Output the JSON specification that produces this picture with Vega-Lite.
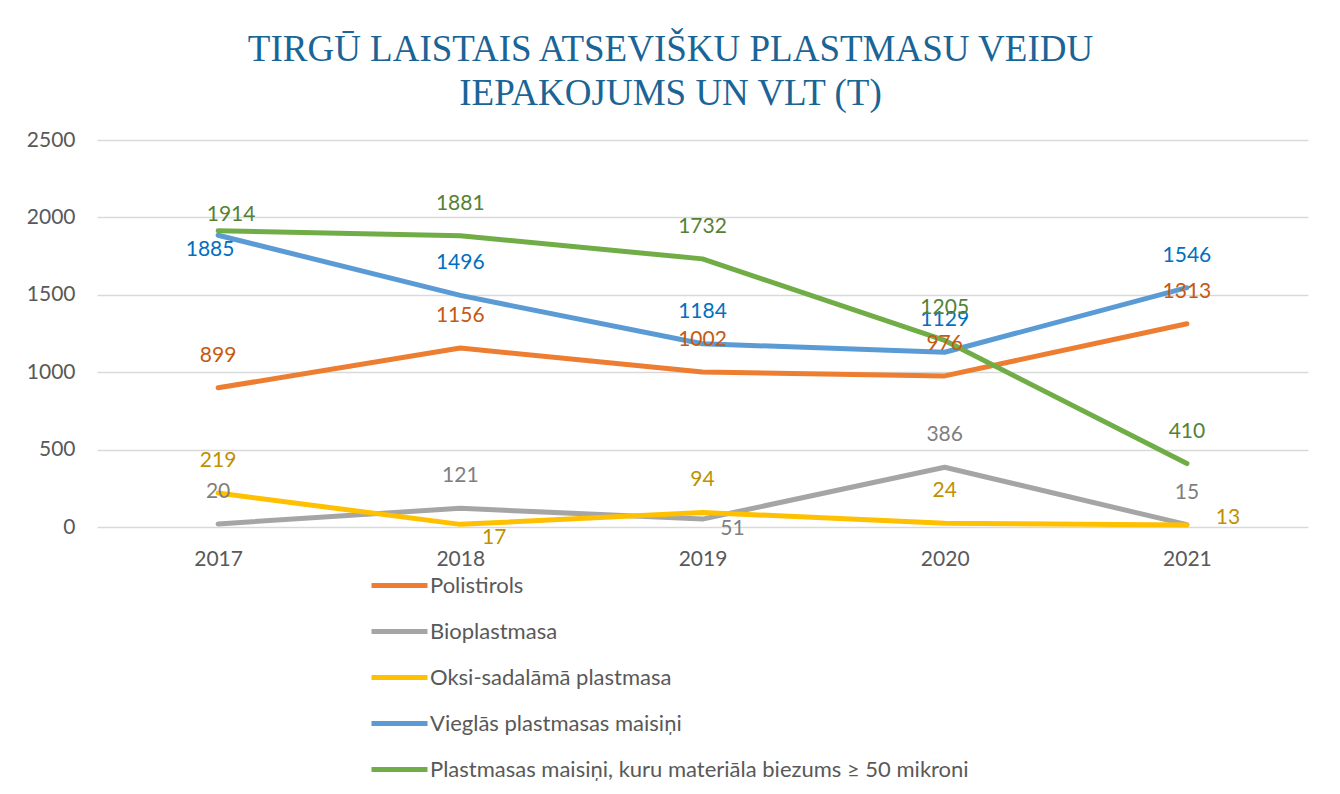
{
  "$schema": "https://vega.github.io/schema/vega-lite/v6.json",
  "width": 1211,
  "height": 387,
  "autosize": {"type": "none"},
  "padding": {"left": 97, "top": 140, "right": 32, "bottom": 267},
  "background": "white",
  "title": {
    "text": ["TIRGŪ LAISTAIS ATSEVIŠKU PLASTMASU VEIDU", "IEPAKOJUMS UN VLT (T)"],
    "font": "Liberation Serif",
    "fontSize": 37,
    "fontWeight": "normal",
    "color": "#1A6496",
    "lineHeight": 44,
    "anchor": "middle",
    "dx": -32,
    "offset": 16
  },
  "config": {
    "view": {"stroke": null},
    "font": "Lato",
    "axis": {"labelFont": "Lato", "labelFontSize": 21, "labelColor": "#595959", "ticks": false, "domain": false, "title": null}
  },
  "data": {
    "values": [
      {"year": "2017", "series": "Polistirols", "value": 899},
      {"year": "2018", "series": "Polistirols", "value": 1156},
      {"year": "2019", "series": "Polistirols", "value": 1002},
      {"year": "2020", "series": "Polistirols", "value": 976},
      {"year": "2021", "series": "Polistirols", "value": 1313},
      {"year": "2017", "series": "Bioplastmasa", "value": 20},
      {"year": "2018", "series": "Bioplastmasa", "value": 121},
      {"year": "2019", "series": "Bioplastmasa", "value": 51},
      {"year": "2020", "series": "Bioplastmasa", "value": 386},
      {"year": "2021", "series": "Bioplastmasa", "value": 15},
      {"year": "2017", "series": "Oksi-sadalāmā plastmasa", "value": 219},
      {"year": "2018", "series": "Oksi-sadalāmā plastmasa", "value": 17},
      {"year": "2019", "series": "Oksi-sadalāmā plastmasa", "value": 94},
      {"year": "2020", "series": "Oksi-sadalāmā plastmasa", "value": 24},
      {"year": "2021", "series": "Oksi-sadalāmā plastmasa", "value": 13},
      {"year": "2017", "series": "Vieglās plastmasas maisiņi", "value": 1885},
      {"year": "2018", "series": "Vieglās plastmasas maisiņi", "value": 1496},
      {"year": "2019", "series": "Vieglās plastmasas maisiņi", "value": 1184},
      {"year": "2020", "series": "Vieglās plastmasas maisiņi", "value": 1129},
      {"year": "2021", "series": "Vieglās plastmasas maisiņi", "value": 1546},
      {"year": "2017", "series": "Plastmasas maisiņi, kuru materiāla biezums ≥ 50 mikroni", "value": 1914},
      {"year": "2018", "series": "Plastmasas maisiņi, kuru materiāla biezums ≥ 50 mikroni", "value": 1881},
      {"year": "2019", "series": "Plastmasas maisiņi, kuru materiāla biezums ≥ 50 mikroni", "value": 1732},
      {"year": "2020", "series": "Plastmasas maisiņi, kuru materiāla biezums ≥ 50 mikroni", "value": 1205},
      {"year": "2021", "series": "Plastmasas maisiņi, kuru materiāla biezums ≥ 50 mikroni", "value": 410}
    ]
  },
  "encoding": {
    "x": {"field": "year", "type": "ordinal", "scale": {"type": "point", "padding": 0.5},
      "axis": {"labelAngle": 0, "labelPadding": 21, "grid": false}},
    "y": {"field": "value", "type": "quantitative", "scale": {"domain": [0, 2500], "nice": false},
      "axis": {"values": [0, 500, 1000, 1500, 2000, 2500], "format": "d", "labelPadding": 22, "grid": true, "gridColor": "#D9D9D9", "gridWidth": 1.5}}
  },
  "layer": [
    {
      "mark": {"type": "line", "strokeWidth": 5, "strokeCap": "round", "strokeJoin": "round"},
      "encoding": {
        "color": {"field": "series", "type": "nominal",
          "scale": {"domain": ["Polistirols", "Bioplastmasa", "Oksi-sadalāmā plastmasa", "Vieglās plastmasas maisiņi", "Plastmasas maisiņi, kuru materiāla biezums ≥ 50 mikroni"],
            "range": ["#ED7D31", "#A5A5A5", "#FFC000", "#5B9BD5", "#70AD47"]},
          "legend": {"orient": "none", "legendX": 272, "legendY": 415, "direction": "vertical", "title": null,
            "symbolType": "stroke", "symbolSize": 3136, "symbolStrokeWidth": 5, "labelFont": "Lato", "labelFontSize": 22,
            "labelColor": "#595959", "labelOffset": 0, "rowPadding": 4, "labelLimit": 800}
        }
      }
    },
    {
      "transform": [{"filter": "!((datum.series == 'Vieglās plastmasas maisiņi' && datum.year == '2017') || (datum.series == 'Bioplastmasa' && datum.year == '2019') || (datum.series == 'Oksi-sadalāmā plastmasa' && (datum.year == '2018' || datum.year == '2021')) || (datum.series == 'Plastmasas maisiņi, kuru materiāla biezums ≥ 50 mikroni' && datum.year == '2017'))"}],
      "mark": {"type": "text", "fontSize": 21, "font": "Lato", "dy": -32, "baseline": "middle"},
      "encoding": {
        "text": {"field": "value", "type": "quantitative"},
        "color": {"field": "series", "type": "nominal",
          "scale": {"domain": ["Polistirols", "Bioplastmasa", "Oksi-sadalāmā plastmasa", "Vieglās plastmasas maisiņi", "Plastmasas maisiņi, kuru materiāla biezums ≥ 50 mikroni"],
            "range": ["#C55A11", "#7F7F7F", "#BF9000", "#0070C0", "#548235"]},
          "legend": null}
      }
    },
    {
      "transform": [{"filter": "datum.series == 'Vieglās plastmasas maisiņi' && datum.year == '2017'"}],
      "mark": {"type": "text", "fontSize": 21, "font": "Lato", "dx": -8, "dy": 15, "baseline": "middle", "color": "#0070C0"},
      "encoding": {"text": {"field": "value", "type": "quantitative"}}
    },
    {
      "transform": [{"filter": "datum.series == 'Plastmasas maisiņi, kuru materiāla biezums ≥ 50 mikroni' && datum.year == '2017'"}],
      "mark": {"type": "text", "fontSize": 21, "font": "Lato", "dx": 13, "dy": -16, "baseline": "middle", "color": "#548235"},
      "encoding": {"text": {"field": "value", "type": "quantitative"}}
    },
    {
      "transform": [{"filter": "datum.series == 'Bioplastmasa' && datum.year == '2019'"}],
      "mark": {"type": "text", "fontSize": 21, "font": "Lato", "dx": 30, "dy": 10, "baseline": "middle", "color": "#7F7F7F"},
      "encoding": {"text": {"field": "value", "type": "quantitative"}}
    },
    {
      "transform": [{"filter": "datum.series == 'Oksi-sadalāmā plastmasa' && datum.year == '2018'"}],
      "mark": {"type": "text", "fontSize": 21, "font": "Lato", "dx": 34, "dy": 14, "baseline": "middle", "color": "#BF9000"},
      "encoding": {"text": {"field": "value", "type": "quantitative"}}
    },
    {
      "transform": [{"filter": "datum.series == 'Oksi-sadalāmā plastmasa' && datum.year == '2021'"}],
      "mark": {"type": "text", "fontSize": 21, "font": "Lato", "dx": 41, "dy": -7, "baseline": "middle", "color": "#BF9000"},
      "encoding": {"text": {"field": "value", "type": "quantitative"}}
    }
  ],
  "resolve": {"scale": {"color": "independent"}}
}
